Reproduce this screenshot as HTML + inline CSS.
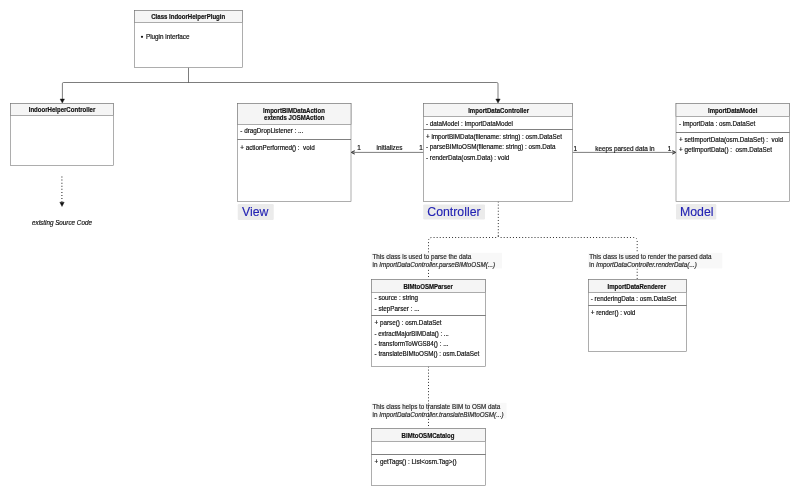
<!DOCTYPE html>
<html><head><meta charset="utf-8"><title>IndoorHelper class diagram</title>
<style>
html,body{margin:0;padding:0;background:#fff;}
svg{display:block;will-change:transform;}
text{font-family:"Liberation Sans",Arial,Helvetica,sans-serif;fill:#111;stroke:#111;stroke-width:.18;}
.b{font-weight:bold;font-size:6.4px;text-anchor:middle;}
.r{font-size:6.3px;}
.i{font-style:italic;}
.box{fill:#fff;stroke:#777;stroke-width:.6;}
.hd{fill:#f5f5f5;stroke:#777;stroke-width:.6;}
.dv{stroke:#3a3a3a;stroke-width:.65;fill:none;}
.ln{stroke:#2c2c2c;stroke-width:.62;fill:none;}
.la{stroke:#1a1a1a;stroke-width:.8;fill:#8a8a8a;stroke-linejoin:miter;}
.dot{stroke:#262626;stroke-width:.95;fill:none;stroke-dasharray:1 2.08;}
.ah{fill:#111;stroke:#111;stroke-width:.4;}
.lbl{fill:#ebebeb;}
.note{fill:#f8f8f8;}
.e{font-size:6.4px;}
.n{fill:#2a2a2a;stroke:#2a2a2a;}
text{white-space:pre;}
.big{font-size:12.3px;fill:#2323b4;stroke:#2323b4;stroke-width:.12;}
</style></head><body>
<svg width="800" height="496" viewBox="0 0 800 496">
<rect x="0" y="0" width="800" height="496" fill="#fff"/>

<rect class="note" x="371.5" y="402.85" width="135" height="15.6"/>
<path class="ln" d="M188.5 67.5V82.5"/>
<path class="ln" d="M62.4 99.5V83.7Q62.4 82.5 63.6 82.5H496.8Q498 82.5 498 83.7V99.5"/>
<path class="ah" d="M62.3 103.1L60.1 99H64.5Z"/>
<path class="ah" d="M498 103.1L495.8 99H500.2Z"/>
<path class="dot" style="stroke-width:1.05" d="M61.9 176.5V202"/>
<path class="ah" d="M62 206.5L59.8 202.2H64.2Z"/>
<path class="ln" d="M423.5 152.4H351.3"/>
<path class="la" d="M354.6 150.6L351.2 152.4L354.6 154.2"/>
<path class="ln" d="M572.5 152.4H675.6"/>
<path class="la" d="M672.4 150.6L675.8 152.4L672.4 154.2"/>
<path class="dot" d="M498.3 201.5V235.5Q498.3 237.5 496.3 237.5H432Q428.5 237.5 428.5 241V279.5"/>
<path class="dot" d="M498.3 235.6Q498.3 237.5 500.3 237.5H633.7Q637.2 237.5 637.2 241V279.5"/>
<path class="dot" d="M428.5 366.5V428.5"/>
<rect class="box" x="134.5" y="10.5" width="108.00" height="57.00"/>
<rect class="hd" x="134.5" y="10.5" width="108.00" height="12.00"/>
<rect class="box" x="10.5" y="103.5" width="103.00" height="62.00"/>
<rect class="hd" x="10.5" y="103.5" width="103.00" height="12.00"/>
<rect class="box" x="237.5" y="103.5" width="113.50" height="98.00"/>
<rect class="hd" x="237.5" y="103.5" width="113.50" height="21.00"/>
<path class="dv" d="M237.5 139.5H351"/>
<rect class="box" x="423.5" y="103.5" width="149.00" height="98.00"/>
<rect class="hd" x="423.5" y="103.5" width="149.00" height="13.00"/>
<path class="dv" d="M423.5 129.5H572.5"/>
<rect class="box" x="676" y="103.5" width="113.50" height="98.00"/>
<rect class="hd" x="676" y="103.5" width="113.50" height="13.00"/>
<path class="dv" d="M676 132.5H789.5"/>
<rect class="box" x="371.5" y="279.5" width="114.00" height="87.00"/>
<rect class="hd" x="371.5" y="279.5" width="114.00" height="13.00"/>
<path class="dv" d="M371.5 315.5H485.5"/>
<rect class="box" x="588.5" y="279.5" width="98.00" height="72.00"/>
<rect class="hd" x="588.5" y="279.5" width="98.00" height="13.00"/>
<path class="dv" d="M588.5 305.5H686.5"/>
<rect class="box" x="371.5" y="428.5" width="114.00" height="57.00"/>
<rect class="hd" x="371.5" y="428.5" width="114.00" height="13.00"/>
<path class="dv" d="M371.5 454.5H485.5"/>
<text class="b" transform="translate(188.2 19.20) scale(.948 1)">Class IndoorHelperPlugin</text>
<text class="b" transform="translate(62 111.90) scale(.948 1)">IndoorHelperController</text>
<text class="b" transform="translate(294 112.80) scale(.948 1)">ImportBIMDataAction</text>
<text class="b" transform="translate(294.3 120.30) scale(.948 1)">extends JOSMAction</text>
<text class="b" transform="translate(498.6 112.80) scale(.948 1)">ImportDataController</text>
<text class="b" transform="translate(732.7 113.00) scale(.948 1)">ImportDataModel</text>
<text class="b" transform="translate(428.1 288.70) scale(.948 1)">BIMtoOSMParser</text>
<text class="b" transform="translate(636.8 288.70) scale(.948 1)">ImportDataRenderer</text>
<text class="b" transform="translate(428 437.70) scale(.948 1)">BIMtoOSMCatalog</text>
<circle cx="142" cy="36.8" r="1.1" fill="#111"/>
<text class="r" x="146" y="39.20">Plugin interface</text>
<text class="r" x="240.3" y="133.20">- dragDropListener : ...</text>
<text class="r" x="240.3" y="150.05">+ actionPerformed() :  void</text>
<text class="r" x="426" y="126.05">- dataModel : ImportDataModel</text>
<text class="r" x="426" y="139.20">+ importBIMData(filename: string) : osm.DataSet</text>
<text class="r" x="426" y="149.45">- parseBIMtoOSM(filename: string) : osm.Data</text>
<text class="r" x="426" y="159.95">- renderData(osm.Data) : void</text>
<text class="r" x="679" y="125.75">- importData : osm.DataSet</text>
<text class="r" x="679" y="142.45">+ setImportData(osm.DataSet) :  void</text>
<text class="r" x="679" y="152.15">+ getImportData() :  osm.DataSet</text>
<text class="r" x="374.6" y="300.35">- source : string</text>
<text class="r" x="374.6" y="310.55">- stepParser : ...</text>
<text class="r" x="374.6" y="325.20">+ parse() : osm.DataSet</text>
<text class="r" x="374.6" y="335.75" textLength="74.2" lengthAdjust="spacingAndGlyphs">- extractMajorBIMData() : ...</text>
<text class="r" x="374.6" y="345.95">- transformToWGS84() : ...</text>
<text class="r" x="374.6" y="356.20">- translateBIMtoOSM() : osm.DataSet</text>
<text class="r" x="590.75" y="300.95">- renderingData : osm.DataSet</text>
<text class="r" x="590.75" y="315.20">+ render() : void</text>
<text class="r" x="374.6" y="463.95">+ getTags() : List&lt;osm.Tag&gt;()</text>
<text class="r e" x="357.2" y="150.15">1</text>
<text class="r e" x="376.6" y="149.75">initializes</text>
<text class="r e" x="419.2" y="150.25">1</text>
<text class="r e" x="573.5" y="150.75">1</text>
<text class="r e" x="595.2" y="150.75">keeps parsed data in</text>
<text class="r e" x="667.8" y="150.75">1</text>
<text class="r i" x="62" y="224.7" text-anchor="middle">existing Source Code</text>
<rect class="note" x="371.5" y="252.85" width="130.5" height="15.6"/>
<text class="r n" x="372.5" y="259.20">This class is used to parse the data</text>
<text class="r n" x="372.5" y="266.90">in <tspan class="i">ImportDataController.parseBIMtoOSM(...)</tspan></text>
<rect class="note" x="588.25" y="252.85" width="134" height="15.6"/>
<text class="r n" x="589.25" y="259.20">This class is used to render the parsed data</text>
<text class="r n" x="589.25" y="266.90">in <tspan class="i">ImportDataController.renderData(...)</tspan></text>
<text class="r n" x="372.5" y="409.20">This class helps to translate BIM to OSM data</text>
<text class="r n" x="372.5" y="416.90">in <tspan class="i">ImportDataController.translateBIMtoOSM(...)</tspan></text>
<rect class="lbl" x="237.75" y="204" width="36.00" height="16.00" rx="1.2"/>
<text class="big" x="242" y="215.8">View</text>
<rect class="lbl" x="423.2" y="204.4" width="61.80" height="15.00" rx="1.2"/>
<text class="big" x="427.3" y="215.6">Controller</text>
<rect class="lbl" x="676" y="204" width="40.25" height="15.40" rx="1.2"/>
<text class="big" x="680" y="215.6">Model</text>
</svg></body></html>
